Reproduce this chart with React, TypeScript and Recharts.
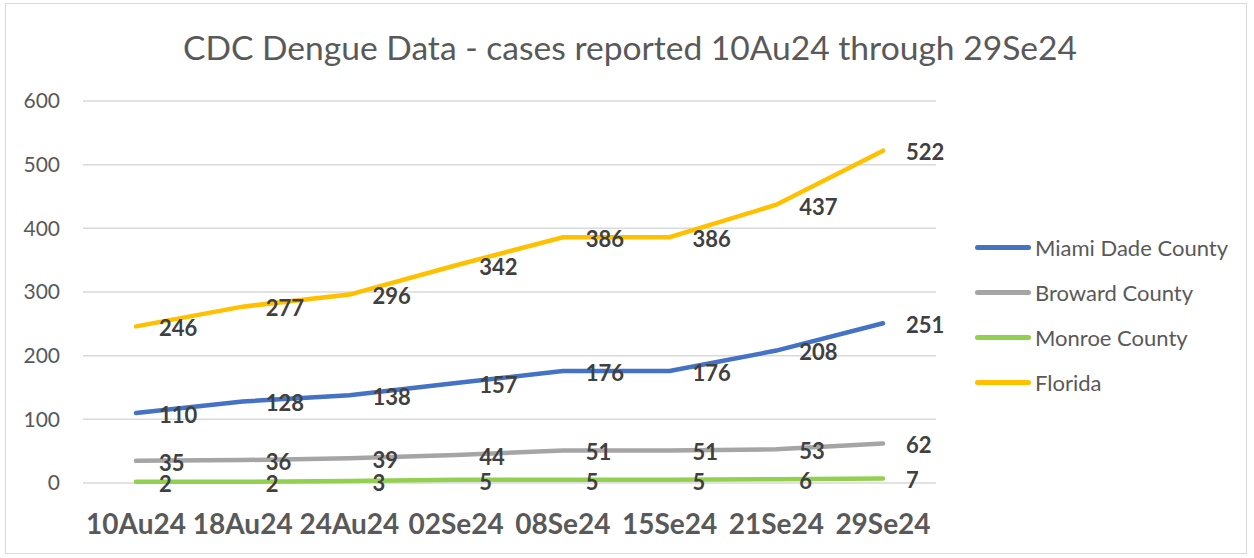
import { LineChart, Line, XAxis, YAxis, CartesianGrid, Legend } from "recharts";

const dates = ["10Au24", "18Au24", "24Au24", "02Se24", "08Se24", "15Se24", "21Se24", "29Se24"];
const miamiDade = [110, 128, 138, 157, 176, 176, 208, 251];
const broward = [35, 36, 39, 44, 51, 51, 53, 62];
const monroe = [2, 2, 3, 5, 5, 5, 6, 7];
const florida = [246, 277, 296, 342, 386, 386, 437, 522];
const yTicks = [0, 100, 200, 300, 400, 500, 600];
const seriesNames = ["Miami Dade County", "Broward County", "Monroe County", "Florida"];

const data = dates.map((d, i) => ({
  date: d,
  miami: miamiDade[i],
  broward: broward[i],
  monroe: monroe[i],
  florida: florida[i],
}));

const font = "Lato, 'Open Sans', sans-serif";

const label = {
  position: "right" as const,
  offset: 23,
  fill: "#404040",
  fontSize: 22,
  fontWeight: 700,
  fontFamily: font,
  dy: 2,
};

function LegendList(props: any) {
  const items = [...(props.payload || [])].sort(
    (a: any, b: any) => seriesNames.indexOf(a.value) - seriesNames.indexOf(b.value)
  );
  return (
    <div style={{ fontFamily: font }}>
      {items.map((entry: any) => (
        <div key={entry.value} style={{ display: "flex", alignItems: "center", height: 45 }}>
          <div style={{ width: 56, height: 5, borderRadius: 3, background: entry.color, marginRight: 4 }} />
          <span style={{ fontSize: 22, color: "#595959" }}>{entry.value}</span>
        </div>
      ))}
    </div>
  );
}

export default function App() {
  return (
    <div style={{ position: "absolute", left: 0, top: 0, width: 1254, height: 558, background: "#fff" }}>
      <div
        style={{
          position: "absolute",
          left: 5,
          top: 3,
          width: 1242,
          height: 551,
          border: "1px solid #d9d9d9",
          boxSizing: "border-box",
        }}
      />
      <div
        style={{
          position: "absolute",
          left: 0,
          top: 31,
          width: 1260,
          textAlign: "center",
          fontFamily: font,
          fontSize: 33.6,
          lineHeight: "33px",
          color: "#595959",
        }}
      >
        CDC Dengue Data - cases reported 10Au24 through 29Se24
      </div>
      <LineChart width={1254} height={558} data={data} margin={{ top: 101, right: 318, bottom: 45, left: 23 }}>
        <CartesianGrid horizontal vertical={false} stroke="#d9d9d9" strokeWidth={1.5} />
        <XAxis
          dataKey="date"
          height={30}
          axisLine={false}
          tickLine={false}
          tickSize={0}
          tickMargin={31}
          padding={{ left: 53, right: 53 }}
          interval={0}
          tick={{ fill: "#595959", fontSize: 28, fontWeight: 700, fontFamily: font }}
        />
        <YAxis
          width={60}
          domain={[0, 600]}
          ticks={yTicks}
          axisLine={false}
          tickLine={false}
          tickSize={0}
          tickMargin={23}
          tick={{ fill: "#595959", fontSize: 21, fontFamily: font }}
        />
        <Legend
          layout="vertical"
          verticalAlign="middle"
          align="center"
          content={<LegendList />}
          wrapperStyle={{ left: 975, top: 225, width: 270 }}
        />
        <Line dataKey="miami" name="Miami Dade County" stroke="#4472C4" strokeWidth={4.5} strokeLinecap="round" dot={false} isAnimationActive={false} label={label} />
        <Line dataKey="broward" name="Broward County" stroke="#A5A5A5" strokeWidth={4.5} strokeLinecap="round" dot={false} isAnimationActive={false} label={label} />
        <Line dataKey="monroe" name="Monroe County" stroke="#92D050" strokeWidth={4.5} strokeLinecap="round" dot={false} isAnimationActive={false} label={label} />
        <Line dataKey="florida" name="Florida" stroke="#FFC000" strokeWidth={4.5} strokeLinecap="round" dot={false} isAnimationActive={false} label={label} />
      </LineChart>
    </div>
  );
}
